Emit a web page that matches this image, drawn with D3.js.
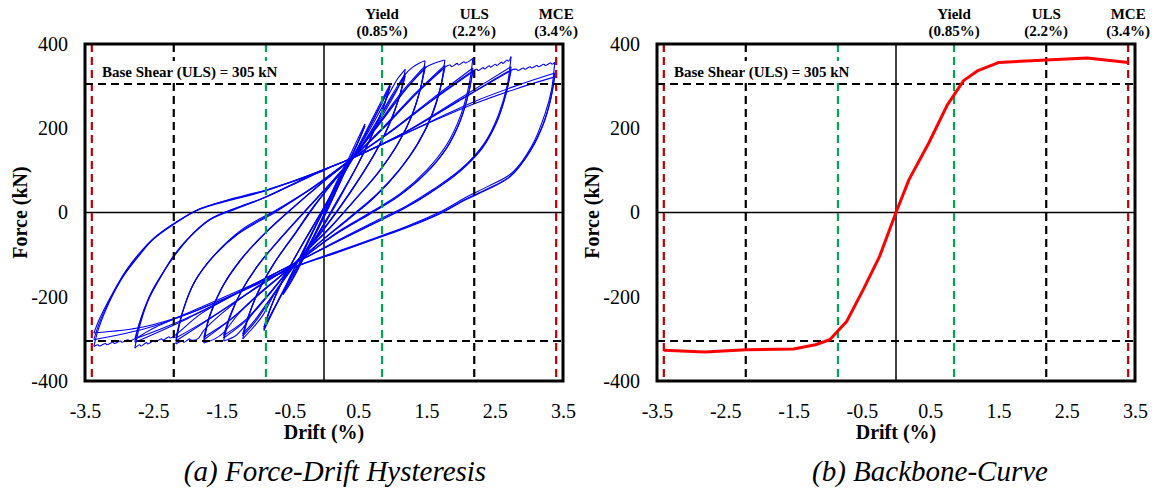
<!DOCTYPE html>
<html><head><meta charset="utf-8">
<script src="https://cdnjs.cloudflare.com/ajax/libs/d3/7.8.5/d3.min.js"></script>
<style>body{margin:0;background:#fff;} svg{display:block;font-family:"Liberation Serif","Times New Roman",serif;}</style>
</head><body><svg id="c" width="1156" height="494"></svg>
<script>
// ---------- data ----------
const xTicks = [-3.5,-2.5,-1.5,-0.5,0.5,1.5,2.5,3.5];
const yTicks = [-400,-200,0,200,400];
const limitNames = ["Yield","ULS","MCE"];
const limitLabels = ["(0.85%)","(2.2%)","(3.4%)"];
const limitDrifts = [0.85,2.2,3.4];
const baseShear = 305;
const baseShearLabel = "Base Shear (ULS) = 305 kN";
const captions = ["(a) Force-Drift Hysteresis","(b) Backbone-Curve"];

const backboneDrift = [-3.4,-2.8,-2.2,-1.5,-1.18,-0.97,-0.72,-0.48,-0.24,0,0.19,0.48,0.75,0.99,1.2,1.5,2.2,2.8,3.4];
const backboneForce = [-327,-331,-326,-324,-314,-302,-258,-183,-104,0,78,165,255,313,337,356,362,367,356];

// hysteresis branches: [drift %, force kN], read peak to peak
const hysteresisBranches = [
 [[0,0],[0.12,42],[0.25,88],[0.35,120]],
 [[0.35,120],[0.28,90],[0.15,45],[0,-5],[-0.15,-55],[-0.27,-92],[-0.35,-115]],
 [[-0.35,-115],[-0.28,-88],[-0.15,-42],[0,8],[0.15,58],[0.27,95],[0.35,118]],
 [[0.35,118],[0.27,86],[0.13,38],[-0.02,-12],[-0.16,-60],[-0.28,-95],[-0.35,-112]],
 [[-0.35,-112],[-0.27,-82],[-0.12,-30],[0.05,25],[0.2,78],[0.35,125],[0.48,170],[0.6,210]],
 [[0.6,210],[0.52,175],[0.38,122],[0.2,58],[0.02,-5],[-0.18,-70],[-0.38,-135],[-0.5,-170],[-0.6,-195]],
 [[-0.6,-195],[-0.52,-160],[-0.38,-115],[-0.2,-55],[0,8],[0.2,72],[0.4,135],[0.6,205]],
 [[0.6,205],[0.51,170],[0.36,118],[0.18,52],[0,-10],[-0.2,-75],[-0.4,-138],[-0.6,-192]],
 [[-0.6,-192],[-0.5,-155],[-0.3,-90],[-0.05,-10],[0.2,65],[0.45,140],[0.7,220],[0.97,305]],
 [[0.97,305],[0.88,255],[0.72,190],[0.5,115],[0.25,40],[0,-30],[-0.25,-95],[-0.5,-160],[-0.7,-220],[-0.88,-280]],
 [[-0.88,-280],[-0.8,-235],[-0.65,-175],[-0.42,-105],[-0.15,-30],[0.1,40],[0.4,125],[0.7,215],[0.97,300]],
 [[0.97,300],[0.87,250],[0.7,183],[0.48,110],[0.22,35],[-0.03,-35],[-0.28,-100],[-0.52,-165],[-0.72,-225],[-0.88,-276]],
 [[-0.88,-276],[-0.79,-230],[-0.63,-170],[-0.4,-100],[-0.13,-25],[0.12,45],[0.42,128],[0.71,215],[0.96,296]],
 [[0.96,296],[0.86,246],[0.69,180],[0.47,106],[0.2,30],[-0.05,-40],[-0.3,-105],[-0.54,-168],[-0.73,-227],[-0.88,-272]],
 [[-0.88,-272],[-0.78,-225],[-0.6,-160],[-0.37,-90],[-0.1,-15],[0.15,55],[0.43,130],[0.75,220],[0.98,290],[1.08,318],[1.19,340]],
 [[1.19,340],[1.12,285],[0.98,220],[0.78,150],[0.52,80],[0.25,15],[-0.05,-50],[-0.45,-130],[-0.75,-200],[-0.88,-240],[-1.0,-266],[-1.19,-300]],
 [[-1.19,-300],[-1.11,-250],[-0.97,-190],[-0.75,-125],[-0.45,-55],[-0.15,15],[0.15,75],[0.44,132],[0.75,210],[1.0,280],[1.19,330]],
 [[1.19,330],[1.11,278],[0.97,214],[0.76,145],[0.5,76],[0.22,10],[-0.08,-55],[-0.46,-131],[-0.78,-205],[-1.0,-258],[-1.19,-293]],
 [[-1.19,-293],[-1.1,-243],[-0.95,-183],[-0.72,-118],[-0.42,-50],[-0.12,20],[0.17,80],[0.45,134],[0.76,210],[1.0,275],[1.19,324]],
 [[1.19,324],[1.1,272],[0.96,210],[0.74,140],[0.48,72],[0.2,6],[-0.1,-58],[-0.47,-132],[-0.8,-207],[-1.01,-255],[-1.19,-288]],
 [[-1.19,-288],[-1.09,-238],[-0.93,-178],[-0.7,-113],[-0.4,-45],[-0.1,24],[0.18,82],[0.45,134],[0.8,215],[1.05,285],[1.19,328],[1.3,345],[1.4,355],[1.48,360]],
 [[1.48,360],[1.42,300],[1.3,235],[1.1,168],[0.82,100],[0.48,35],[0.12,-30],[-0.2,-82],[-0.46,-128],[-0.8,-192],[-1.05,-240],[-1.19,-275],[-1.3,-293],[-1.47,-305]],
 [[-1.47,-305],[-1.38,-250],[-1.22,-190],[-0.98,-128],[-0.66,-65],[-0.3,0],[0.05,62],[0.42,130],[0.8,212],[1.15,288],[1.48,348]],
 [[1.48,348],[1.41,292],[1.28,228],[1.08,162],[0.8,96],[0.45,30],[0.1,-34],[-0.22,-86],[-0.47,-128],[-0.82,-198],[-1.15,-258],[-1.47,-298]],
 [[-1.47,-298],[-1.37,-244],[-1.2,-184],[-0.95,-122],[-0.63,-60],[-0.27,4],[0.08,66],[0.43,131],[0.82,214],[1.16,286],[1.48,342]],
 [[1.48,342],[1.4,287],[1.27,224],[1.06,158],[0.78,92],[0.43,26],[0.08,-38],[-0.24,-89],[-0.48,-129],[-0.84,-200],[-1.17,-258],[-1.47,-292]],
 [[-1.47,-292],[-1.36,-238],[-1.18,-178],[-0.93,-118],[-0.6,-55],[-0.25,8],[0.1,70],[0.43,132],[0.85,218],[1.2,292],[1.48,343],[1.58,352],[1.68,358],[1.77,362]],
 [[1.77,362],[1.71,300],[1.6,238],[1.4,170],[1.12,105],[0.78,45],[0.4,-8],[0.0,-62],[-0.45,-127],[-0.9,-185],[-1.25,-240],[-1.47,-285],[-1.6,-300],[-1.76,-310]],
 [[-1.76,-310],[-1.68,-250],[-1.5,-180],[-1.22,-112],[-0.88,-52],[-0.48,8],[-0.05,68],[0.41,129],[0.9,208],[1.35,285],[1.77,350]],
 [[1.77,350],[1.7,292],[1.58,232],[1.38,165],[1.1,100],[0.76,40],[0.38,-12],[-0.02,-65],[-0.46,-127],[-0.92,-190],[-1.35,-252],[-1.76,-302]],
 [[-1.76,-302],[-1.67,-244],[-1.48,-175],[-1.19,-107],[-0.85,-47],[-0.45,12],[-0.02,72],[0.42,130],[0.92,210],[1.37,285],[1.77,344]],
 [[1.77,344],[1.69,288],[1.57,228],[1.36,161],[1.08,96],[0.74,36],[0.36,-16],[-0.04,-68],[-0.47,-128],[-0.94,-192],[-1.37,-254],[-1.76,-296]],
 [[-1.76,-296],[-1.66,-238],[-1.46,-168],[-1.16,-100],[-0.82,-42],[-0.42,16],[0.0,74],[0.43,131],[0.95,213],[1.4,290],[1.77,345],[1.85,350],[1.87,346],[1.95,354],[1.97,350],[2.05,358],[2.07,355],[2.18,366]],
 [[2.18,366],[2.12,300],[2.0,230],[1.8,162],[1.5,100],[1.12,45],[0.72,4],[0.2,-46],[-0.45,-124],[-1.0,-178],[-1.5,-240],[-1.76,-280],[-1.85,-300],[-1.95,-303],[-1.97,-300],[-2.05,-308],[-2.07,-305],[-2.17,-312]],
 [[-2.17,-312],[-2.08,-242],[-1.92,-172],[-1.63,-106],[-1.25,-50],[-0.72,0],[-0.2,55],[0.4,127],[1.0,196],[1.6,272],[2.18,343]],
 [[2.18,343],[2.12,285],[2.0,220],[1.8,155],[1.5,95],[1.1,40],[0.7,0],[0.18,-50],[-0.46,-125],[-1.05,-185],[-1.65,-250],[-2.17,-305]],
 [[-2.17,-305],[-2.07,-236],[-1.9,-166],[-1.6,-100],[-1.22,-45],[-0.7,4],[-0.18,58],[0.41,128],[1.02,198],[1.62,270],[2.18,334]],
 [[2.18,334],[2.11,278],[1.99,215],[1.79,151],[1.48,91],[1.08,37],[0.68,-3],[0.16,-53],[-0.47,-126],[-1.08,-188],[-1.68,-252],[-2.17,-298]],
 [[-2.17,-298],[-2.06,-230],[-1.88,-160],[-1.57,-95],[-1.2,-40],[-0.68,8],[-0.15,60],[0.42,128],[1.05,200],[1.65,275],[2.18,336],[2.24,340],[2.26,337],[2.33,344],[2.35,341],[2.42,348],[2.44,345],[2.51,352],[2.53,349],[2.6,357],[2.62,354],[2.68,362],[2.7,359],[2.74,370]],
 [[2.74,370],[2.68,300],[2.55,230],[2.35,165],[2.02,105],[1.6,55],[1.2,15],[0.7,-25],[0.1,-75],[-0.45,-122],[-1.2,-185],[-1.8,-240],[-2.17,-290],[-2.25,-298],[-2.27,-295],[-2.36,-303],[-2.38,-300],[-2.47,-307],[-2.49,-304],[-2.58,-312],[-2.6,-309],[-2.68,-317],[-2.7,-314],[-2.77,-322]],
 [[-2.77,-322],[-2.7,-270],[-2.57,-207],[-2.38,-150],[-2.19,-100],[-1.95,-55],[-1.7,-20],[-1.3,8],[-0.95,30],[-0.4,72],[0.0,102],[0.4,128],[1.2,192],[2.0,272],[2.74,346]],
 [[2.74,346],[2.67,285],[2.54,220],[2.33,158],[2.0,100],[1.58,50],[1.18,11],[0.68,-29],[0.08,-78],[-0.46,-123],[-1.25,-190],[-2.0,-252],[-2.77,-308]],
 [[-2.77,-308],[-2.69,-258],[-2.55,-198],[-2.36,-143],[-2.16,-94],[-1.92,-50],[-1.66,-15],[-1.26,12],[-0.9,33],[-0.36,74],[0.02,103],[0.41,129],[1.22,193],[2.02,270],[2.74,337]],
 [[2.74,337],[2.66,278],[2.53,214],[2.32,153],[1.98,96],[1.56,47],[1.16,8],[0.66,-32],[0.06,-80],[-0.47,-124],[-1.28,-192],[-2.03,-252],[-2.77,-300]],
 [[-2.77,-300],[-2.68,-250],[-2.53,-190],[-2.33,-136],[-2.12,-88],[-1.88,-45],[-1.62,-12],[-1.22,15],[-0.86,36],[-0.33,76],[0.04,104],[0.42,130],[1.25,196],[2.05,272],[2.74,338],[2.82,340],[2.84,337],[2.92,343],[2.94,340],[3.02,346],[3.04,343],[3.12,349],[3.14,346],[3.22,352],[3.24,349],[3.32,355],[3.34,352],[3.38,357]],
 [[3.38,357],[3.33,290],[3.24,236],[3.05,160],[2.76,95],[2.4,62],[2.1,38],[1.74,5],[1.25,-30],[0.84,-55],[0.2,-92],[-0.35,-124],[-1.0,-168],[-1.8,-225],[-2.5,-275],[-2.77,-300],[-2.85,-305],[-2.87,-302],[-2.96,-308],[-2.98,-305],[-3.07,-311],[-3.09,-308],[-3.18,-314],[-3.2,-311],[-3.29,-317],[-3.31,-314],[-3.37,-318]],
 [[-3.37,-318],[-3.3,-275],[-3.15,-215],[-2.94,-152],[-2.72,-105],[-2.51,-65],[-2.2,-28],[-1.87,4],[-1.49,24],[-0.84,52],[0.0,102],[0.4,128],[1.59,218],[2.18,262],[2.8,300],[3.38,331]],
 [[3.38,331],[3.32,270],[3.22,215],[3.03,150],[2.74,88],[2.38,55],[2.08,32],[1.72,0],[1.22,-34],[0.82,-58],[0.18,-95],[-0.36,-125],[-1.05,-175],[-1.9,-235],[-2.6,-275],[-3.37,-302]],
 [[-3.37,-302],[-3.29,-262],[-3.13,-205],[-2.92,-145],[-2.7,-98],[-2.48,-60],[-2.17,-24],[-1.84,7],[-1.46,27],[-0.82,54],[0.02,103],[0.41,129],[1.6,217],[2.2,258],[2.82,294],[3.38,322]],
 [[3.38,322],[3.31,262],[3.21,208],[3.02,145],[2.72,84],[2.36,52],[2.06,29],[1.7,-3],[1.2,-37],[0.8,-60],[0.16,-97],[-0.37,-126],[-1.08,-178],[-1.95,-238],[-2.65,-272],[-3.37,-286]],
 [[-3.37,-286],[-3.28,-250],[-3.11,-196],[-2.9,-138],[-2.68,-92],[-2.45,-55],[-2.14,-20],[-1.8,10],[-1.4,30],[-0.8,56],[0.0,100],[0.1,108]]
];

// ---------- drawing ----------
const svg = d3.select("#c");
svg.append("rect").attr("width",1156).attr("height",494).attr("fill","#fff");
const y = d3.scaleLinear().domain([-400,400]).range([381,44]);
const FONT = '"Liberation Serif","Times New Roman",serif';
const limitColors = ["#00A651","#000000","#C00000"];

function panel(r0, r1, drawData, caption, captionX) {
  const x = d3.scaleLinear().domain([-3.5,3.5]).range([r0,r1]);
  const g = svg.append("g");
  const clipId = "clip" + r0;
  svg.append("clipPath").attr("id",clipId).append("rect")
    .attr("x",r0).attr("y",y(400)).attr("width",r1-r0).attr("height",y(-400)-y(400));

  g.append("line").attr("x1",x(0)).attr("x2",x(0)).attr("y1",y(400)).attr("y2",y(-400))
    .attr("stroke","#000").attr("stroke-width",1.5);
  g.append("line").attr("x1",r0).attr("x2",r1).attr("y1",y(0)).attr("y2",y(0))
    .attr("stroke","#000").attr("stroke-width",1.5);

  if (drawData.under) drawData.under(g.append("g").attr("clip-path",`url(#${clipId})`), x);

  const ref = g.append("g");
  limitDrifts.forEach((v,i) => {
    [-v, v].forEach(d => {
      ref.append("line").attr("x1",x(d)).attr("x2",x(d)).attr("y1",y(400)).attr("y2",y(-400))
        .attr("stroke",limitColors[i]).attr("stroke-width",2.2).attr("stroke-dasharray","8,5");
    });
  });
  [baseShear, -baseShear].forEach(f => {
    ref.append("line").attr("x1",r0).attr("x2",r1).attr("y1",y(f)).attr("y2",y(f))
      .attr("stroke","#000").attr("stroke-width",2.2).attr("stroke-dasharray","8,5");
  });

  if (drawData.over) drawData.over(g.append("g").attr("clip-path",`url(#${clipId})`), x);

  g.append("rect").attr("x",r0+12).attr("y",61).attr("width",190).attr("height",21).attr("fill","#fff");
  g.append("text").attr("x",r0+17).attr("y",77).attr("font-size",15).attr("font-weight","bold")
    .attr("font-family",FONT).text(baseShearLabel);

  g.append("rect").attr("x",r0).attr("y",y(400)).attr("width",r1-r0).attr("height",y(-400)-y(400))
    .attr("fill","none").attr("stroke","#000").attr("stroke-width",3);

  g.append("g").attr("transform",`translate(0,${y(-400)})`)
    .call(d3.axisBottom(x).tickValues(xTicks).tickSize(0).tickPadding(23).tickFormat(d => String(d)))
    .call(a => { a.select(".domain").remove(); a.attr("font-size",20).attr("font-family",FONT); a.selectAll("text").attr("fill","#000"); });
  g.append("g").attr("transform",`translate(${r0},0)`)
    .call(d3.axisLeft(y).tickValues(yTicks).tickSize(0).tickPadding(17).tickFormat(d => String(d)))
    .call(a => { a.select(".domain").remove(); a.attr("font-size",20).attr("font-family",FONT); a.selectAll("text").attr("fill","#000"); });

  g.append("text").attr("x",x(0)).attr("y",439).attr("text-anchor","middle")
    .attr("font-size",20).attr("font-weight","bold").attr("font-family",FONT).text("Drift (%)");
  g.append("text").attr("transform",`translate(${r0-58},${y(0)}) rotate(-90)`).attr("text-anchor","middle")
    .attr("font-size",20).attr("font-weight","bold").attr("font-family",FONT).text("Force (kN)");

  limitDrifts.forEach((v,i) => {
    g.append("text").attr("x",x(v)).attr("y",19).attr("text-anchor","middle")
      .attr("font-size",15).attr("font-weight","bold").attr("font-family",FONT).text(limitNames[i]);
    g.append("text").attr("x",x(v)).attr("y",36).attr("text-anchor","middle")
      .attr("font-size",15).attr("font-weight","bold").attr("font-family",FONT).text(limitLabels[i]);
  });

  g.append("text").attr("x",captionX).attr("y",481).attr("text-anchor","middle")
    .attr("font-size",29).attr("font-style","italic").attr("font-family",FONT).text(caption);
}

panel(85, 563, {
  under: (g, x) => {
    const line = d3.line().x(d => x(d[0])).y(d => y(d[1])).curve(d3.curveCatmullRom.alpha(0.5));
    g.selectAll("path.h").data(hysteresisBranches).join("path").attr("class","h")
      .attr("d", line).attr("fill","none").attr("stroke","#0000FF").attr("stroke-width",1.1);
  }
}, captions[0], 335);

panel(657, 1135, {
  over: (g, x) => {
    const pts = backboneDrift.map((d,i) => [d, backboneForce[i]]);
    g.append("path").attr("d", d3.line().x(d => x(d[0])).y(d => y(d[1]))(pts))
      .attr("fill","none").attr("stroke","#FF0000").attr("stroke-width",3).attr("stroke-linejoin","round");
  }
}, captions[1], 930);
</script>
</body></html>
